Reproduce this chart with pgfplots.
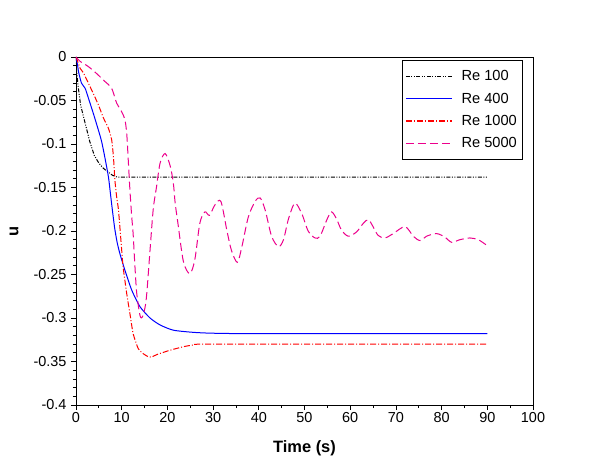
\documentclass[border=0pt]{standalone}
\usepackage{pgfplots}
\pgfplotsset{compat=1.18}
\usepackage{fontspec}
\setmainfont{Liberation Sans}
\begin{document}
\begin{tikzpicture}
\begin{axis}[
  scale only axis, width=457bp, height=348bp,
  at={(0,0)}, anchor=south west,
  xmin=0, xmax=100, ymin=-0.4, ymax=0,
  xtick={0,10,...,100},
  xticklabels={0,10,20,30,40,50,60,70,80,90,100},
  ytick={-0.4,-0.35,-0.3,-0.25,-0.2,-0.15,-0.1,-0.05,0},
  yticklabels={-0.4,-0.35,-0.3,-0.25,-0.2,-0.15,-0.1,-0.05,0},
  minor x tick num=1, minor y tick num=4,
  tick align=outside, xtick pos=bottom, ytick pos=left,
  major tick length=5bp, minor tick length=3bp,
  tick style={black, line width=0.8pt},
  axis line style={line width=0.9pt},
  ticklabel style={font=\fontsize{14.5}{16}\selectfont},
  xticklabel style={yshift=1bp},
  yticklabel style={xshift=-1bp},
  xlabel={\textbf{Time (s)}}, ylabel={\textbf{u}},
  label style={font=\fontsize{16.5}{18}\selectfont},
  xlabel style={at={(axis description cs:0.5,0)}, anchor=center, yshift=-43bp},
  ylabel style={at={(axis description cs:0,0.5)}, anchor=center, yshift=62bp},
  legend style={at={(0.7127,0.9914)}, anchor=north west,
    font=\fontsize{14.7}{16}\selectfont, row sep=6.5bp, inner xsep=3.5bp, inner ysep=8.5bp,
    legend cell align=left,
    /tikz/every odd column/.append style={column sep=7bp}},
  legend image code/.code={\draw[#1, line width=1.1bp] (0bp,0bp) -- (46bp,0bp);},
]
\addplot[black, line width=1bp, dash pattern=on 4bp off 1.5bp on 1bp off 1.5bp on 1bp off 1.5bp] coordinates {
(0,0) (0.2,-0.02) (0.5,-0.035) (1,-0.055) (2,-0.076) (3,-0.097) (4,-0.113) (5,-0.122) (6,-0.128) (7,-0.132) (8,-0.136) (9,-0.138) (10,-0.138) (90,-0.138)};
\addlegendentry{Re 100}
\addplot[blue, line width=1bp, smooth, tension=0.4] coordinates {
(0,0) (0.3,-0.008) (0.6,-0.018) (1.2,-0.03) (2,-0.036) (2.7,-0.047) (3.8,-0.065) (4.9,-0.084) (5.6,-0.097) (6.3,-0.115) (7.1,-0.138) (7.6,-0.160) (8.1,-0.182) (8.5,-0.198) (9.0,-0.213) (9.6,-0.226) (10.7,-0.245) (12.2,-0.268) (14,-0.287) (16.2,-0.300) (18.4,-0.308) (21.3,-0.314) (25.7,-0.3165) (30,-0.3175) (40,-0.318) (90,-0.318)};
\addlegendentry{Re 400}
\addplot[red, line width=1bp, smooth, tension=0.3, dash pattern=on 6bp off 2bp on 1bp off 2bp] coordinates {
(0,0) (0.3,-0.004) (0.9,-0.013) (1.6,-0.018) (2.7,-0.030) (3.7,-0.041) (4.9,-0.055) (6,-0.070) (7.1,-0.082) (7.8,-0.095) (8.2,-0.115) (8.5,-0.141) (8.9,-0.161) (9.3,-0.176) (10,-0.222) (10.3,-0.241) (11.1,-0.272) (11.8,-0.295) (12.5,-0.318) (13.6,-0.335) (14.7,-0.341) (15.8,-0.3445) (16.5,-0.345) (17.7,-0.342) (20.6,-0.337) (23.5,-0.333) (25.7,-0.331) (29.3,-0.330) (90,-0.330)};
\addlegendentry{Re 1000}
\addplot[magenta, line width=1bp, smooth, tension=0.5, dash pattern=on 8bp off 4bp] coordinates {
(0,0) (0.9,-0.005) (2.7,-0.011) (4.5,-0.019) (6.3,-0.028) (7.8,-0.036) (8.9,-0.053) (10,-0.063) (10.7,-0.072) (11.1,-0.088) (11.4,-0.115) (11.8,-0.153) (12.2,-0.184) (12.5,-0.203) (12.9,-0.241) (13.3,-0.272) (14,-0.297) (14.5,-0.299) (15.1,-0.288) (15.5,-0.271) (16.2,-0.222) (16.9,-0.175) (17.6,-0.15) (18.4,-0.122) (19.5,-0.111) (20.6,-0.125) (21.3,-0.145) (21.7,-0.168) (22.3,-0.191) (23.5,-0.235) (24.9,-0.249) (26,-0.233) (27.1,-0.191) (28.2,-0.178) (29.2,-0.182) (30.4,-0.170) (31.7,-0.166) (33,-0.199) (34,-0.222) (35.3,-0.236) (36.3,-0.218) (37.7,-0.184) (39.2,-0.166) (40.3,-0.162) (41.4,-0.176) (42.8,-0.206) (44.3,-0.218) (45.4,-0.210) (46.5,-0.186) (47.9,-0.168) (49.4,-0.180) (50.8,-0.200) (52.3,-0.208) (53.4,-0.206) (54.9,-0.187) (55.9,-0.178) (57,-0.186) (58.1,-0.199) (59.6,-0.206) (61.4,-0.201) (62.9,-0.191) (64,-0.187) (65,-0.195) (66.1,-0.205) (67.6,-0.208) (69.4,-0.203) (72,-0.195) (73.8,-0.206) (75.3,-0.211) (76.7,-0.206) (78.9,-0.203) (80.7,-0.207) (82.2,-0.213) (84,-0.210) (86.2,-0.208) (88,-0.210) (89.5,-0.215) (90,-0.217)};
\addlegendentry{Re 5000}
\end{axis}
\path[use as bounding box] (-76bp,-55bp) rectangle (534bp,405bp);
\end{tikzpicture}
\end{document}
